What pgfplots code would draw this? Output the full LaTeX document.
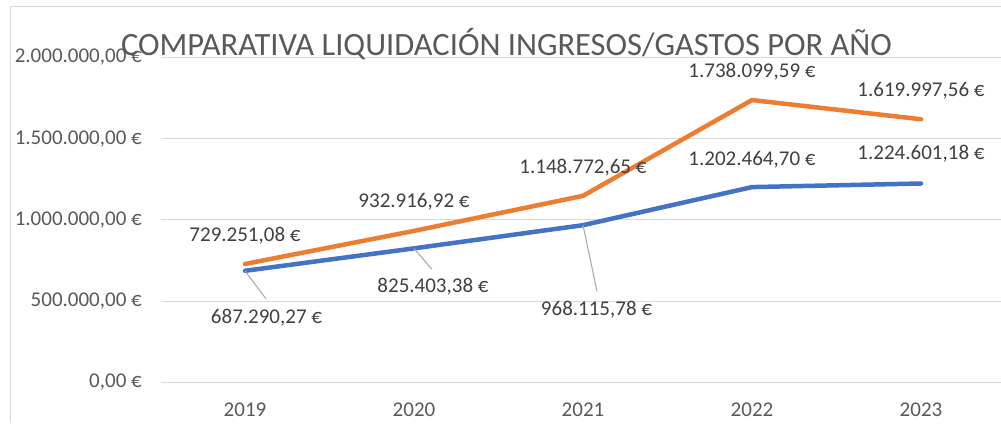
\documentclass[border=0pt]{standalone}
\usepackage{pgfplots}
\pgfplotsset{compat=1.18}
\usepackage{pgfplotstable}
\usepackage{fontspec}
\setmainfont{Carlito}
\definecolor{ora}{HTML}{ED7D31}
\definecolor{blu}{HTML}{4472C4}
\definecolor{gridc}{HTML}{D9D9D9}
\definecolor{txt}{HTML}{595959}
\definecolor{lbl}{HTML}{404040}
\definecolor{lead}{HTML}{A6A6A6}

\pgfplotstableread{
x y dx dy label
0 687290.27 21.5 -47 687.290,27~€
1 825403.38 19 -38.5 825.403,38~€
2 968115.78 13.5 -84 968.115,78~€
3 1202464.70 0 27.5 1.202.464,70~€
4 1224601.18 0 29.5 1.224.601,18~€
}\blue

\pgfplotstableread{
x y dx dy label
0 729251.08 0 28.5 729.251,08~€
1 932916.92 0 29 932.916,92~€
2 1148772.65 0 28.5 1.148.772,65~€
3 1738099.59 0 28 1.738.099,59~€
4 1619997.56 0 28.5 1.619.997,56~€
}\orange

\begin{document}
\begin{tikzpicture}[x=1pt,y=1pt]
\path[use as bounding box] (0,0) rectangle (1001,423);
\draw[gridc, line width=1pt] (10.5,0) -- (10.5,416) -- (1010,416);
\begin{axis}[
  at={(160.5pt,40.5pt)}, anchor=south west,
  scale only axis, width=845pt, height=325pt,
  xmin=-0.5, xmax=4.5, ymin=0, ymax=2000000,
  scaled y ticks=false,
  xtick={0,1,2,3,4}, xticklabels={2019,2020,2021,2022,2023},
  ytick={0,500000,1000000,1500000,2000000},
  yticklabels={{0,00 €},{500.000,00 €},{1.000.000,00 €},{1.500.000,00 €},{2.000.000,00 €}},
  axis line style={draw=none},
  major tick length=0pt,
  ymajorgrids, major grid style={gridc, line width=1pt},
  yticklabel style={font=\fontsize{21}{25}\selectfont, text=txt, anchor=east, inner sep=0pt, xshift=-18.5pt},
  xticklabel style={font=\fontsize{21}{25}\selectfont, text=txt, anchor=north, inner sep=0pt, yshift=-20.5pt},
  clip=false,
  nodes near coords,
  point meta=explicit symbolic,
  visualization depends on={\thisrow{dx}\as\dx},
  visualization depends on={\thisrow{dy}\as\dy},
  nodes near coords style={font=\fontsize{21}{25}\selectfont, text=lbl, anchor=center, inner sep=0pt, xshift=\dx pt, yshift=\dy pt},
]
\addplot[blu, line width=4.5pt, line cap=round, line join=round, mark=none] table[x=x, y=y, meta=label] {\blue};
\addplot[ora, line width=4.5pt, line cap=round, line join=round, mark=none] table[x=x, y=y, meta=label] {\orange};
\draw[lead, line width=1pt] (axis cs:0,687290.27) -- ++(21pt,-28pt);
\draw[lead, line width=1pt] (axis cs:1,825403.38) -- ++(18pt,-21pt);
\draw[lead, line width=1pt] (axis cs:2,968115.78) -- ++(14pt,-66pt);
\end{axis}
\node[anchor=base, text=txt, font=\fontsize{32.5}{38}\selectfont, inner sep=0pt] at (506.5,367.5) {COMPARATIVA LIQUIDACIÓN INGRESOS/GASTOS POR AÑO};
\end{tikzpicture}
\end{document}
